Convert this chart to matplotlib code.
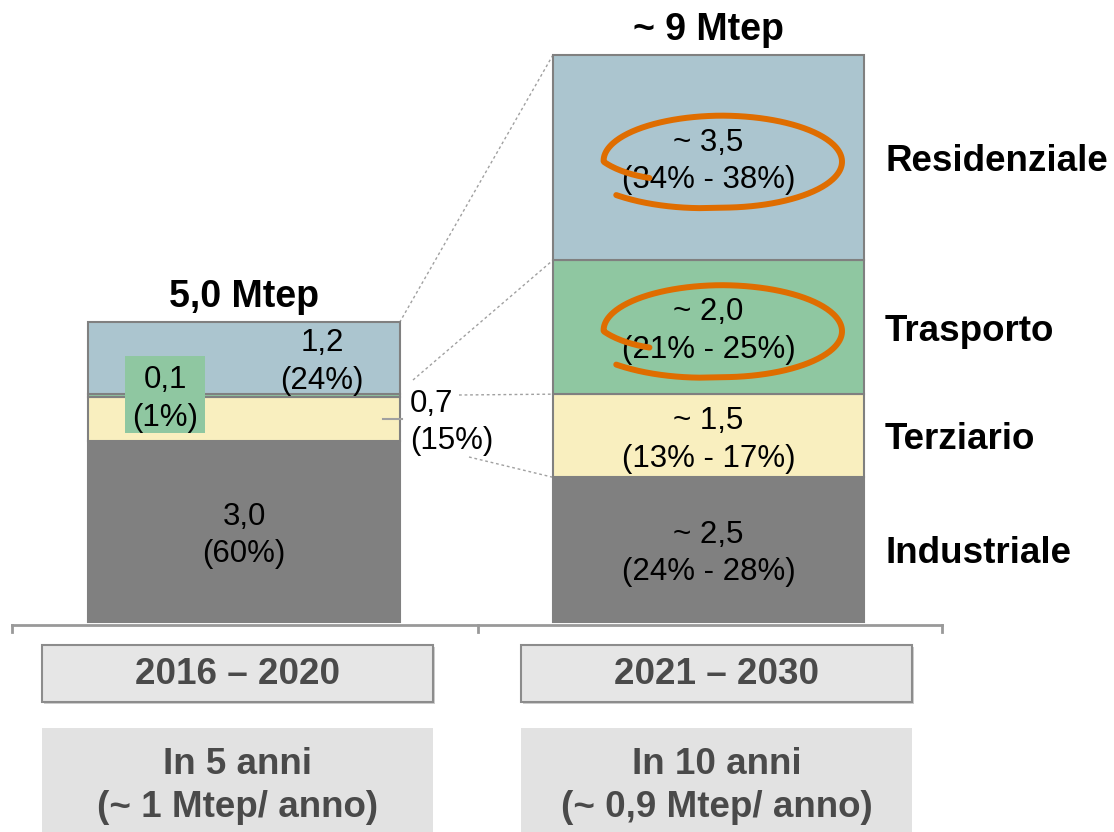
import numpy as np
import matplotlib
matplotlib.use("Agg")
import matplotlib.pyplot as plt
from matplotlib.patches import Rectangle

plt.rcParams['font.family'] = ['Liberation Sans', 'DejaVu Sans']

# data (Mtep), bottom to top
sectors = ['Industriale', 'Terziario', 'Trasporto', 'Residenziale']
periods = ['2016 – 2020', '2021 – 2030']
values_2016 = [3.03, 0.74, 0.05, 1.19]
values_2021 = [2.42, 1.39, 2.24, 3.43]
labels_2016 = ['3,0\n(60%)', '0,7\n(15%)', '0,1\n(1%)', '1,2\n(24%)']
labels_2021 = ['~ 2,5\n(24% - 28%)', '~ 1,5\n(13% - 17%)',
               '~ 2,0\n(21% - 25%)', '~ 3,5\n(34% - 38%)']
totals = ['5,0 Mtep', '~ 9 Mtep']
notes = ['In 5 anni\n(~ 1 Mtep/ anno)', 'In 10 anni\n(~ 0,9 Mtep/ anno)']
colors = ['#808080', '#f9efbf', '#8fc7a1', '#abc5cf']

fig = plt.figure(figsize=(11.14, 8.32), dpi=100)
ax = fig.add_axes([0, 0, 1, 1])

# pixel helpers: bar 0 centred at x=244px, bar 1 at 708.5px, y=0 at 622px
PX = 464.5
PY = 59.8
ax.set_xlim(-244 / PX, (1114 - 244) / PX)
ax.set_ylim((622 - 832) / PY, 622 / PY)
ax.axis('off')


def px(x):
    return (x - 244) / PX


def py(y):
    return (622 - y) / PY


width = 0.67
edge = '#808080'
for i, vals in enumerate([values_2016, values_2021]):
    bottoms = np.concatenate([[0], np.cumsum(vals)[:-1]])
    ax.bar(i, vals, bottom=bottoms, width=width, color=colors,
           edgecolor=edge, linewidth=1.5, zorder=2)

cum16 = np.cumsum(values_2016)
cum21 = np.cumsum(values_2021)
# small downward nudge so the two-line labels sit like the original
nudge = 4 / PY
mid16 = cum16 - np.array(values_2016) / 2 - nudge
mid21 = cum21 - np.array(values_2021) / 2 - nudge

lab_kw = dict(fontsize=22.5, linespacing=1.33, zorder=5, color='black')

# left bar labels
ax.text(0, mid16[0], labels_2016[0], ha='center', va='center', **lab_kw)
ax.text(px(410), mid16[1], labels_2016[1], ha='left', va='center', **lab_kw)
ax.add_patch(Rectangle((px(125), py(433)), 80 / PX, 77 / PY,
                       facecolor=colors[2], edgecolor='none', zorder=4))
ax.text(px(165), mid16[2], labels_2016[2], ha='center', va='center', **lab_kw)
ax.text(px(322), mid16[3], labels_2016[3], ha='center', va='center', **lab_kw)

# right bar labels + sector names
for k in range(4):
    ax.text(1, mid21[k], labels_2021[k], ha='center', va='center', **lab_kw)
    ax.text(px(885), mid21[k], sectors[k], ha='left', va='center',
            fontsize=26.5, fontweight='bold')

# totals
ax.text(0, cum16[-1] + 25 / PY, totals[0], ha='center', va='center',
        fontsize=27, fontweight='bold')
ax.text(1, cum21[-1] + 25 / PY, totals[1], ha='center', va='center',
        fontsize=27, fontweight='bold')

# leader for 0,7
ax.plot([px(383), px(402)], [py(419), py(419)], color='#a0a0a0', lw=1.5, zorder=3)

# dotted connectors to the right bar
dot = dict(color='#a0a0a0', lw=1, linestyle=(0, (2, 2)), zorder=1)
xr = 1 - width / 2
ax.plot([width / 2, xr], [cum16[-1], cum21[-1]], **dot)
ax.plot([px(413), xr], [py(380), cum21[2]], **dot)
ax.plot([px(459), xr], [py(395), cum21[1]], **dot)
ax.plot([px(469), xr], [py(457), cum21[0]], **dot)

# baseline with ticks
yb = py(625)
ax.plot([px(12), px(942)], [yb, yb], color='#999999', lw=2, zorder=1)
for xt in [12, 478, 942]:
    ax.plot([px(xt), px(xt)], [yb, py(632)], color='#999999', lw=2, zorder=1)

# period boxes and notes
for i, x0 in enumerate([42, 521]):
    ax.add_patch(Rectangle((px(x0 + 2), py(704)), 391 / PX, 57 / PY,
                           facecolor='#cfcfcf', edgecolor='none', zorder=1))
    ax.add_patch(Rectangle((px(x0), py(702)), 391 / PX, 57 / PY,
                           facecolor='#e6e6e6', edgecolor='#8c8c8c', lw=1.5, zorder=2))
    ax.text(px(x0 + 195.5), py(675), periods[i], ha='center', va='center',
            fontsize=26.5, fontweight='bold', color='#4a4a4a', zorder=3)
    ax.add_patch(Rectangle((px(x0), py(840)), 391 / PX, 112 / PY,
                           facecolor='#e2e2e2', edgecolor='none', zorder=1))
    ax.text(px(x0 + 195.5), py(786), notes[i], ha='center', va='center',
            fontsize=26.5, fontweight='bold', color='#4a4a4a',
            linespacing=1.33, zorder=3)


# hand-drawn orange loops around the two highlighted values
def loop(cy_data):
    t = np.linspace(211, -140, 300)
    r = np.interp(-t, [-211, -180, -90, 0, 90, 140], [0.69, 0.97, 1.0, 1.0, 1.0, 1.13])
    tr = np.radians(t)
    xs = 721 + 121 * r * np.cos(tr)
    ys = 46 * r * np.sin(tr)
    ax.plot(px(xs), cy_data + ys / PY, color='#df6d00', lw=4.3,
            solid_capstyle='round', zorder=6)


loop(mid21[3])
loop(mid21[2])

fig.savefig('out.png', dpi=100)
